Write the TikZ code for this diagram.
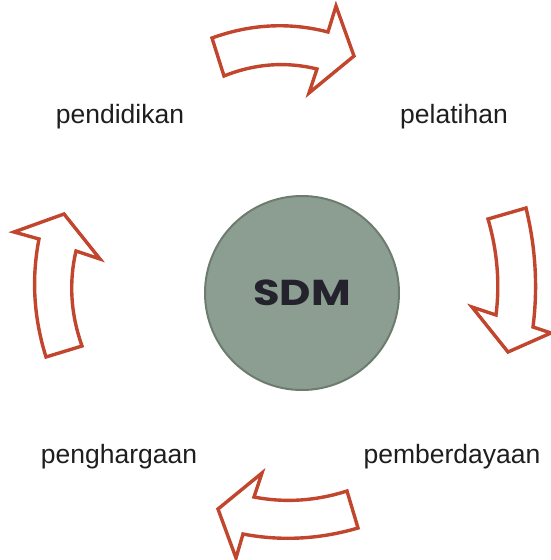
\documentclass[tikz,border=0pt]{standalone}
\usepackage{fontspec}
\usepackage{graphicx}
\setmainfont{Liberation Sans}
\newfontfamily\sdmfont{Poppins}
\definecolor{arrowred}{HTML}{C2462E}
\definecolor{circfill}{HTML}{8C9E92}
\definecolor{circline}{HTML}{6C7C6F}
\definecolor{sdmtext}{HTML}{24232D}
\definecolor{labeltext}{HTML}{1E1E1E}
\begin{document}
\begin{tikzpicture}[x=1pt,y=-1pt,
  bigarrow/.style={draw=arrowred,line width=3.4pt,fill=white,line join=miter},
  lbl/.style={font=\fontsize{26.5}{30}\selectfont,text=labeltext,inner sep=0pt,anchor=base}]
\useasboundingbox (0,0) rectangle (550,560);
% center circle
\node[circle,draw=circline,line width=2pt,fill=circfill,minimum size=194pt,inner sep=0pt,
  font=\sdmfont\bfseries\fontsize{36}{40}\selectfont,text=sdmtext] (sdm) at (302,293) {\scalebox{1.2}[1]{SDM}};
% labels
\node[lbl] (pend) at (120,123) {pendidikan};
\node[lbl] (pel) at (454,123) {pelatihan};
\node[lbl] (pemb) at (452,463) {pemberdayaan};
\node[lbl] (peng) at (119,463) {penghargaan};
% top arrow
\draw[bigarrow] (212,38) .. controls (250.7,24) and (289.3,22) .. (328,32) -- (336,6) -- (354,56) -- (309,93) -- (317,69)
  .. controls (285.7,61.3) and (254.7,63.7) .. (224,76) -- cycle;
% right arrow
\draw[bigarrow] (488,219) -- (526,208) .. controls (535.7,247.7) and (538,287.3) .. (533,327) -- (551,333) -- (508,352)
  -- (472,307) -- (496,315) .. controls (500,283) and (497.3,251) .. cycle;
% bottom arrow
\draw[bigarrow] (347,491) -- (358,528) .. controls (319.3,539.3) and (281,541.3) .. (243,534) -- (236,558) -- (218,509)
  -- (262,473) -- (254,497) .. controls (284.7,503) and (315.7,501) .. cycle;
% left arrow
\draw[bigarrow] (46,357) -- (82,346) .. controls (70.7,314) and (68.7,282.3) .. (76,251) -- (100,259) -- (64,214)
  -- (14,232) -- (39,239) .. controls (31.3,278.3) and (33.7,317.7) .. cycle;
\end{tikzpicture}
\end{document}
